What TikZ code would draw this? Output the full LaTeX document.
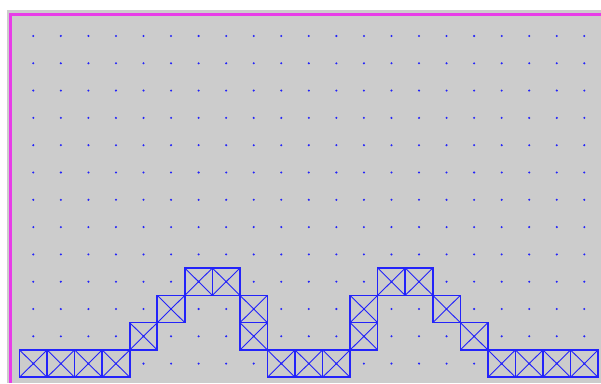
\documentclass[tikz,border=0pt]{standalone}
\usepackage{xcolor}

\definecolor{cellblue}{RGB}{35,35,250}
\definecolor{frameviolet}{RGB}{232,60,232}
\definecolor{paneback}{RGB}{204,204,204}

\tikzset{
  griddot/.style={circle, fill=cellblue, inner sep=0pt, minimum size=2.3pt},
  cellbox/.style={draw=cellblue, line width=1.6pt, inner sep=0pt,
    minimum width=27.55pt, minimum height=27.3pt,
    path picture={\draw[cellblue, line width=0.9pt]
      (path picture bounding box.north west) -- (path picture bounding box.south east)
      (path picture bounding box.north east) -- (path picture bounding box.south west);}}
}

\begin{document}
\begin{tikzpicture}[x=1pt,y=1pt]
\useasboundingbox (0,0) rectangle (601,383);
\fill[paneback] (7,0) rectangle (601,373);
\draw[frameviolet, line width=2.4pt] (10.5,0) -- (10.5,368.5) -- (601,368.5);
 \begin{scope}[shift={(33.3pt,347pt)}, x=27.55pt, y=-27.3pt]
  % dot grid
  \foreach \i in {0,...,20}
   \foreach \j in {0,...,12}
    \node[griddot] (d\i-\j) at (\i,\j) {};
  % crossed cells
  \foreach \i/\j in {0/12,1/12,2/12,3/12,4/11,5/10,6/9,7/9,8/10,8/11,
                     9/12,10/12,11/12,12/11,12/10,13/9,14/9,15/10,16/11,
                     17/12,18/12,19/12,20/12}
    \node[cellbox] (c\i-\j) at (\i,\j) {};
 \end{scope}
\end{tikzpicture}
\end{document}
